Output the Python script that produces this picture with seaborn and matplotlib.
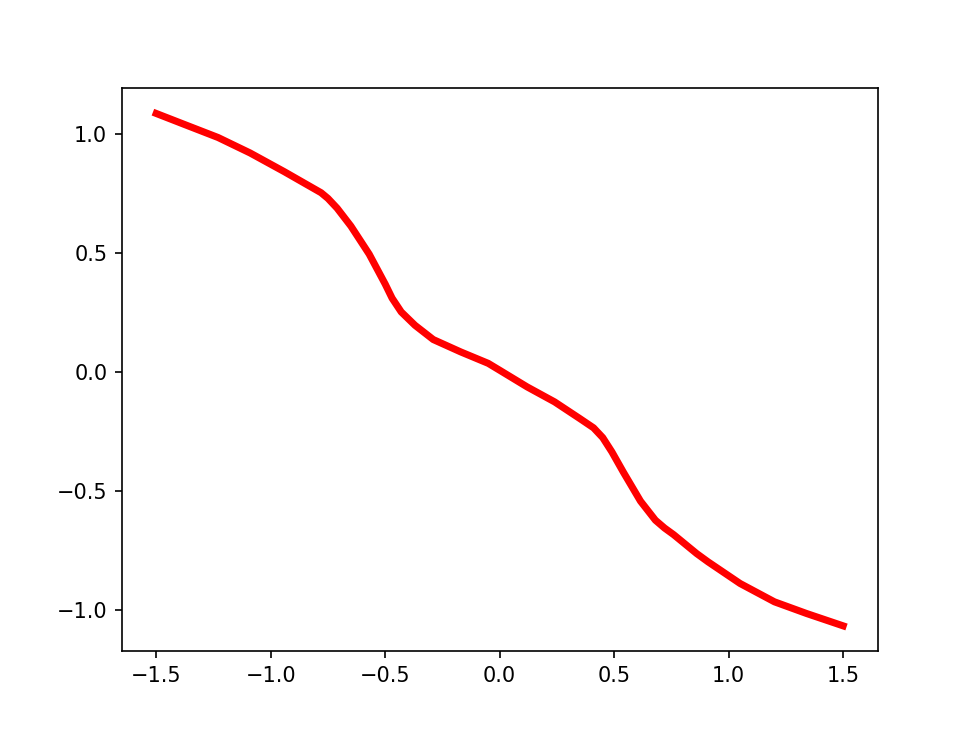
import numpy as np
import pandas as pd
import matplotlib
matplotlib.use("Agg")
import matplotlib.pyplot as plt
import seaborn as sns

# values
x_vals = [-1.50, -1.38, -1.23, -1.09, -0.94, -0.82, -0.78, -0.75, -0.71, -0.65,
          -0.57, -0.50, -0.47, -0.43, -0.37, -0.29, -0.17, -0.05, 0.00, 0.06,
          0.12, 0.24, 0.35, 0.41, 0.45, 0.49, 0.54, 0.615, 0.68, 0.72,
          0.76, 0.86, 0.91, 1.05, 1.20, 1.34, 1.50]
y_vals = [1.087, 1.042, 0.986, 0.921, 0.842, 0.776, 0.754, 0.730, 0.689, 0.614,
          0.496, 0.370, 0.311, 0.253, 0.197, 0.137, 0.085, 0.037, 0.008, -0.027,
          -0.062, -0.125, -0.195, -0.234, -0.275, -0.335, -0.420, -0.542, -0.622, -0.655,
          -0.683, -0.762, -0.797, -0.888, -0.965, -1.014, -1.066]

df = pd.DataFrame({'x': x_vals, 'y': y_vals})

fig, ax = plt.subplots(figsize=(6.5, 4.88), dpi=150)
sns.lineplot(data=df, x='x', y='y', color='red', linewidth=3.4, ax=ax)
ax.set_xlabel('')
ax.set_ylabel('')
ax.set_xticks([-1.5, -1.0, -0.5, 0.0, 0.5, 1.0, 1.5])
ax.set_yticks([-1.0, -0.5, 0.0, 0.5, 1.0])

plt.savefig('out.png', dpi=150)
